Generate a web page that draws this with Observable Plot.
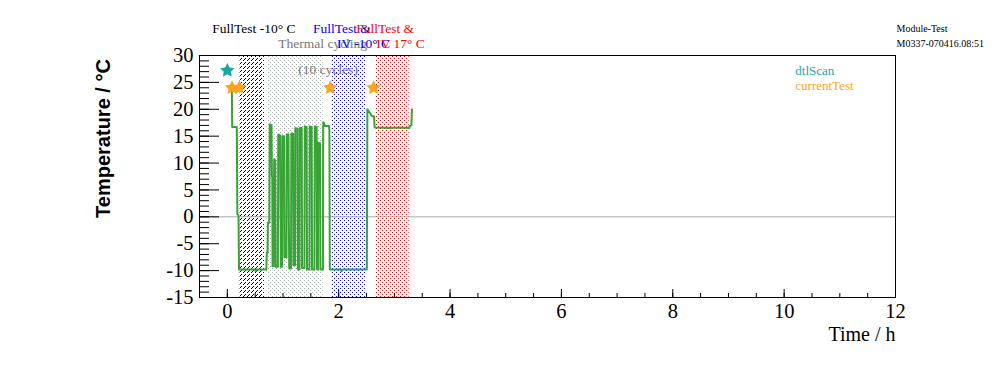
<!DOCTYPE html>
<html>
<head>
<meta charset="utf-8">
<script src="https://cdn.jsdelivr.net/npm/d3@7"></script>
<script src="https://cdn.jsdelivr.net/npm/@observablehq/plot@0.6"></script>
<style>
  html, body { margin: 0; padding: 0; background: #fff; }
  #chart svg { display: block; }
</style>
</head>
<body>
<div id="chart"></div>
<script>
// ---- Data ----
// Temperature trace: time in hours, temperature in °C
const timeH = [
  0.080, 0.087, 0.170, 0.180, 0.200, 0.210, 0.500, 0.510, 0.530,
  0.6995, 0.7085, 0.7229, 0.7282, 0.7534, 0.7623, 0.7928, 0.8000, 0.8072, 0.8125,
  0.8305, 0.8359, 0.8412, 0.8610, 0.8682, 0.9076, 0.9148, 0.9471, 0.9542, 0.9614,
  0.9829, 0.9883, 1.0188, 1.0260, 1.0619, 1.0673, 1.0977, 1.1049, 1.1121,
  1.1444, 1.1498, 1.1820, 1.1892, 1.2161, 1.2215, 1.2592, 1.2664,
  1.2951, 1.3004, 1.3345, 1.3417, 1.3847, 1.3901, 1.4242, 1.4314,
  1.4744, 1.4798, 1.5139, 1.5211, 1.5641, 1.5695, 1.6036, 1.6107,
  1.6269, 1.6323, 1.6646, 1.6718, 1.7166, 1.7220, 1.7399, 1.7507, 1.8260, 1.8332, 1.8403,
  2.040, 2.050, 2.070, 2.505, 2.515, 2.555, 2.600, 2.635, 2.645, 2.900, 3.100, 3.265, 3.280, 3.305, 3.315
];
const tempC = [
  24.6, 16.7, 16.7, 0.5, 0.3, -9.8, -9.8, -10.1, -9.8,
  -9.8, -6.7, -6.7, -1.1, -1.1, 17.2, 17.0, 7.5, 7.5, -9.2,
  -9.2, 3.0, 10.7, 10.5, -9.3, -9.3, 15.3, 15.2, 2.0, -9.3,
  -9.3, 15.0, 15.0, -7.5, -7.5, 15.3, 15.3, -1.0, -9.6,
  -9.6, 15.5, 15.4, -9.0, -9.0, 16.5, 16.4, -9.8,
  -9.8, 16.5, 16.5, -9.5, -9.5, 16.8, 16.7, -9.8,
  -9.8, 16.8, 16.7, -9.8, -9.8, 16.8, 16.7, -9.8,
  -9.8, 13.8, 13.7, -9.8, -9.8, 17.6, 17.4, 16.9, 16.9, 16.0, -9.8,
  -9.8, -10.1, -9.8, -9.8, 20.0, 19.4, 18.7, 18.7, 16.6, 16.5, 16.6, 16.5, 16.9, 17.0, 20.0
];

// Test markers
const dtlScanT = [0.0];
const dtlScanV = [27.2];
const currentTestT = [0.085, 0.215, 1.85, 2.625];
const currentTestV = [24.0, 24.0, 24.0, 24.0];

// Test phases (shaded bands)
const phaseStart = [0.23, 0.71, 1.878, 2.673];
const phaseEnd   = [0.665, 1.722, 2.48, 3.265];
const phaseName  = ["FullTest -10° C", "Thermal cycling", "FullTest & IV -10° C", "FullTest & IV 17° C"];

// Axis ticks
const yMajor = [-15, -10, -5, 0, 5, 10, 15, 20, 25, 30];
const xMajor = [0, 2, 4, 6, 8, 10, 12];

// Text
const yTitle = "Temperature / °C";
const xTitle = "Time / h";
const stamp = "Module-Test\nM0337-070416.08:51";
const legendNames = ["dtlScan", "currentTest"];

// ---- Build tables ----
const trace = timeH.map((t, i) => ({t, v: tempC[i]}));
const dtl = dtlScanT.map((t, i) => ({t, v: dtlScanV[i]}));
const cur = currentTestT.map((t, i) => ({t, v: currentTestV[i]}));
const phases = phaseStart.map((s, i) => ({start: s, end: phaseEnd[i], name: phaseName[i]}));

// styling (not data)
const GREEN = "#38a336", TEAL = "#19a8a8", ORANGE = "#fba51a";
const patternSpecs = [
  {id: "patBlackHatch", color: "#000000", size: 4, dots: [[0,3],[1,2],[3,0]]},
  {id: "patGrayDots",   color: "#a4acaa", size: 4, dots: [[0,0],[2,2]]},
  {id: "patBlueDots",   color: "#0000ff", size: 4, dots: [[0,0],[2,2]]},
  {id: "patRedDots",    color: "#ff0000", size: 4, dots: [[0,0],[2,2]]}
];

// fat five-pointed star (ROOT-like marker)
const fatStar = {
  draw(ctx, size) {
    const R = Math.sqrt(size / Math.PI) * 1.65, r = R * 0.5;
    for (let k = 0; k < 10; k++) {
      const a = -Math.PI / 2 + k * Math.PI / 5, rr = k % 2 ? r : R;
      const x = rr * Math.cos(a), y = rr * Math.sin(a);
      k ? ctx.lineTo(x, y) : ctx.moveTo(x, y);
    }
    ctx.closePath();
  }
};

// annotation placement (data coordinates)
const annos = [
  {text: "FullTest -10° C", t: -0.27, v: 34.2, color: "#000"},
  {text: "Thermal cycling", t: 0.915, v: 31.4, color: "#777"},
  {text: "FullTest &",      t: 1.537, v: 34.2, color: "#0000ff"},
  {text: "IV -10° C",       t: 1.968, v: 31.4, color: "#0000ff"},
  {text: "FullTest &",      t: 2.314, v: 34.2, color: "#ff0000"},
  {text: "IV 17° C",        t: 2.673, v: 31.4, color: "#ff0000"},
  {text: "(10 cycles)",     t: 1.274, v: 26.6, color: "#777"}
];
const legendPos = [{t: 10.2, v: 26.4, color: TEAL}, {t: 10.2, v: 23.5, color: ORANGE}];

const tickFmt = d => String(d);

const plot = Plot.plot({
  width: 996,
  height: 372,
  marginLeft: 199,
  marginRight: 101,
  marginTop: 55,
  marginBottom: 75,
  style: {fontFamily: "'Liberation Serif', 'Times New Roman', serif", fontSize: "20px", background: "#fff", color: "#000"},
  x: {domain: [-0.5, 12], axis: null},
  y: {domain: [-15, 30], axis: null},
  marks: [
    ...phases.map((p, i) => Plot.rect([p], {x1: "start", x2: "end", fill: `url(#${patternSpecs[i].id})`})),
    Plot.ruleY([0], {stroke: "#a8a8a8", strokeWidth: 1}),
    Plot.line(trace, {x: "t", y: "v", stroke: GREEN, strokeWidth: 2}),
    Plot.dot(cur, {x: "t", y: "v", symbol: fatStar, r: 4.6, fill: ORANGE, stroke: "none"}),
    Plot.dot(dtl, {x: "t", y: "v", symbol: fatStar, r: 4.6, fill: TEAL, stroke: "none"}),
    Plot.frame({stroke: "#000", strokeWidth: 1}),
    // Y axis: labels outside, ticks inside
    Plot.axisY({ticks: yMajor, tickSize: 0, tickPadding: 6, fontSize: 20.5, tickFormat: tickFmt, label: null}),
    Plot.axisY({ticks: yMajor, tickSize: -20, text: null, label: null}),
    Plot.axisY({ticks: d3.range(-15, 31, 1), tickSize: -10, text: null, label: null}),
    // X axis
    Plot.axisX({ticks: xMajor, tickSize: 0, tickPadding: 6, fontSize: 20.5, tickFormat: tickFmt, label: null}),
    Plot.axisX({ticks: xMajor, tickSize: -8, text: null, label: null}),
    Plot.axisX({ticks: d3.range(-0.5, 12.01, 0.5), tickSize: -4, text: null, label: null}),
    // titles
    Plot.text([yTitle], {frameAnchor: "left", text: d => d, rotate: -90, dx: -96, dy: -38,
      fontFamily: "'Liberation Sans', Arial, sans-serif", fontWeight: "bold", fontSize: 20,
      textAnchor: "middle", lineAnchor: "middle", fill: "#000"}),
    Plot.text([xTitle], {frameAnchor: "bottom-right", text: d => d, dy: 43, textAnchor: "end",
      lineAnchor: "bottom", fontSize: 20, fill: "#000"}),
    Plot.text([stamp], {frameAnchor: "top-right", text: d => d, dx: 1, dy: -9, textAnchor: "start",
      lineAnchor: "bottom", lineHeight: 1.5, fontSize: 10, fill: "#000"}),
    // annotations
    ...annos.map(a => Plot.text([a], {x: "t", y: "v", text: "text", fill: a.color, textAnchor: "start",
      lineAnchor: "bottom", fontSize: 13.5})),
    // legend
    ...legendNames.map((n, i) => Plot.text([n], {x: () => legendPos[i].t, y: () => legendPos[i].v, text: d => d,
      fill: legendPos[i].color, textAnchor: "start", lineAnchor: "bottom", fontSize: 13}))
  ]
});

// build SVG fill patterns with the DOM API
const NS = "http://www.w3.org/2000/svg";
const defsEl = document.createElementNS(NS, "defs");
for (const spec of patternSpecs) {
  const pat = document.createElementNS(NS, "pattern");
  pat.setAttribute("id", spec.id);
  pat.setAttribute("width", spec.size);
  pat.setAttribute("height", spec.size);
  pat.setAttribute("patternUnits", "userSpaceOnUse");
  for (const [dx, dy] of spec.dots) {
    const r = document.createElementNS(NS, "rect");
    r.setAttribute("x", dx);
    r.setAttribute("y", dy);
    r.setAttribute("width", "1");
    r.setAttribute("height", "1");
    r.setAttribute("fill", spec.color);
    pat.appendChild(r);
  }
  defsEl.appendChild(pat);
}
plot.insertBefore(defsEl, plot.firstChild);

document.getElementById("chart").appendChild(plot);
</script>
</body>
</html>
